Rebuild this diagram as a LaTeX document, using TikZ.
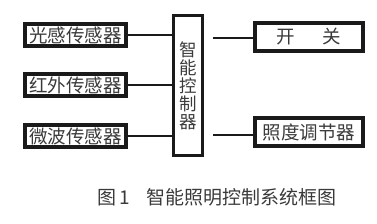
\documentclass[tikz,border=0pt]{standalone}
\usepackage{fontspec}
\newfontfamily\cjk{Noto Sans CJK SC}
\usepackage{tikz}
\usetikzlibrary{positioning}
\definecolor{InkDark}{HTML}{1A1A1A}
\definecolor{InkText}{HTML}{3A3A3A}
\tikzset{
  sensor/.style={draw=InkDark, line width=3.6pt, minimum width=101pt, minimum height=22pt,
                 inner sep=0pt, font=\cjk\fontsize{18.5}{18}\selectfont, text=InkText},
  output/.style={draw=InkDark, line width=3.6pt, minimum width=108pt, minimum height=28pt,
                 inner sep=0pt, font=\cjk\fontsize{18.5}{18}\selectfont, text=InkText},
  ctrl/.style={draw=InkDark, line width=3.6pt, minimum width=29pt, minimum height=140pt,
               inner sep=0pt, align=center, font=\cjk\fontsize{17.5}{18}\selectfont, text=InkText},
  link/.style={line width=1.2pt, draw=InkDark},
}
\begin{document}
\begin{tikzpicture}[x=1pt, y=-1pt]
\useasboundingbox (0,0) rectangle (377,224);
% ---------------------------------------------------------------- controller
\node[ctrl] (mcu) at (188,85.5) {智\\能\\控\\制\\器};
% ---------------------------------------------------------------- sensors
\node[sensor] (light) at (75.5,35) {光感传感器};
\node[sensor] (ir) at (75.5,85) {红外传感器};
\node[sensor] (radar) at (75.5,136) {微波传感器};
\foreach \s in {light,ir,radar} {\draw[link] (\s.east) -- (\s.east -| mcu.west);}
% ---------------------------------------------------------------- outputs
\node[output] (switch) at (309,37) {开\hspace{28pt}关};
\node[output] (dimmer) at (309,132) {照度调节器};
\coordinate (sw) at ([xshift=9pt]mcu.east |- 0,38);
\coordinate (dm) at ([xshift=9pt]mcu.east |- 0,135);
\draw[link] (sw) -- (sw -| switch.west);
\draw[link] (dm) -- (dm -| dimmer.west);
% ---------------------------------------------------------------- caption
\node[font=\cjk\fontsize{19}{19}\selectfont, text=InkText, anchor=west, inner sep=0pt] (cap) at (97,197) {图\,1\hspace{17pt}智能照明控制系统框图};
\end{tikzpicture}
\end{document}
